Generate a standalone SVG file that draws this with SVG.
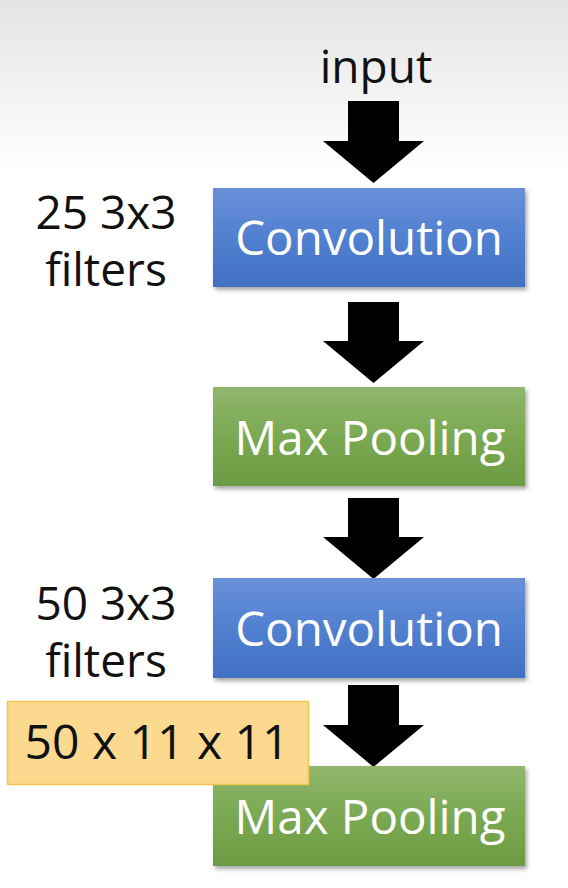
<svg xmlns="http://www.w3.org/2000/svg" width="568" height="888" viewBox="0 0 568 888">
  <defs>
    <linearGradient id="bg" x1="0" y1="0" x2="0" y2="1">
      <stop offset="0" stop-color="#e4e4e4"/>
      <stop offset="1" stop-color="#ffffff"/>
    </linearGradient>
    <linearGradient id="blue" x1="0" y1="0" x2="0" y2="1">
      <stop offset="0" stop-color="#6990d8"/>
      <stop offset="0.5" stop-color="#5180d0"/>
      <stop offset="1" stop-color="#4270c3"/>
    </linearGradient>
    <linearGradient id="green" x1="0" y1="0" x2="0" y2="1">
      <stop offset="0" stop-color="#90b66c"/>
      <stop offset="0.5" stop-color="#7aa952"/>
      <stop offset="1" stop-color="#6c9b44"/>
    </linearGradient>
    <filter id="shadow" x="-10%" y="-10%" width="125%" height="135%">
      <feDropShadow dx="2" dy="3" stdDeviation="2" flood-color="#000" flood-opacity="0.35"/>
    </filter>
  </defs>
  <style>
    .lbl { font-family: "Open Sans", "Liberation Sans", sans-serif; font-size: 46px; fill: #111111; text-anchor: middle; }
    .note { font-size: 48px; }
    .box-text { font-family: "Open Sans", "Liberation Sans", sans-serif; font-size: 47.5px; fill: #ffffff; text-anchor: middle; }
    .arrow { fill: #000000; }
  </style>

  <rect x="0" y="0" width="568" height="170" fill="url(#bg)"/>
  <rect x="0" y="170" width="568" height="718" fill="#ffffff"/>

  <g id="connectors">
    <polygon class="arrow" points="348,101 399,101 399,141 424,141 373.5,183 323,141 348,141"/>
    <polygon class="arrow" points="348,302 399,302 399,341 424,341 373.5,383 323,341 348,341"/>
    <polygon class="arrow" points="348,498 399,498 399,537 424,537 373.5,579 323,537 348,537"/>
    <polygon class="arrow" points="348,685 399,685 399,725 424,725 373.5,767 323,725 348,725"/>
  </g>

  <g id="input-label">
    <text class="lbl" x="376" y="83">input</text>
  </g>

  <g id="conv1">
    <rect x="213" y="188" width="312" height="99" fill="url(#blue)" filter="url(#shadow)"/>
    <text class="box-text" x="369" y="255">Convolution</text>
  </g>
  <g id="filters1">
    <text class="lbl" x="106" y="229">25 3x3</text>
    <text class="lbl" x="106" y="286">filters</text>
  </g>

  <g id="pool1">
    <rect x="213" y="387" width="312" height="99" fill="url(#green)" filter="url(#shadow)"/>
    <text class="box-text" x="370" y="455">Max Pooling</text>
  </g>

  <g id="conv2">
    <rect x="213" y="578" width="312" height="100" fill="url(#blue)" filter="url(#shadow)"/>
    <text class="box-text" x="369" y="646">Convolution</text>
  </g>
  <g id="filters2">
    <text class="lbl" x="106" y="620">50 3x3</text>
    <text class="lbl" x="106" y="677">filters</text>
  </g>

  <g id="pool2">
    <rect x="213" y="766" width="312" height="100" fill="url(#green)" filter="url(#shadow)"/>
    <text class="box-text" x="370" y="834">Max Pooling</text>
  </g>

  <g id="size-note">
    <rect x="7.5" y="701.5" width="301" height="83" fill="#fbd98e" stroke="#f3c451" stroke-width="1.5"/>
    <text class="lbl note" x="157" y="759">50 x 11 x 11</text>
  </g>
</svg>
